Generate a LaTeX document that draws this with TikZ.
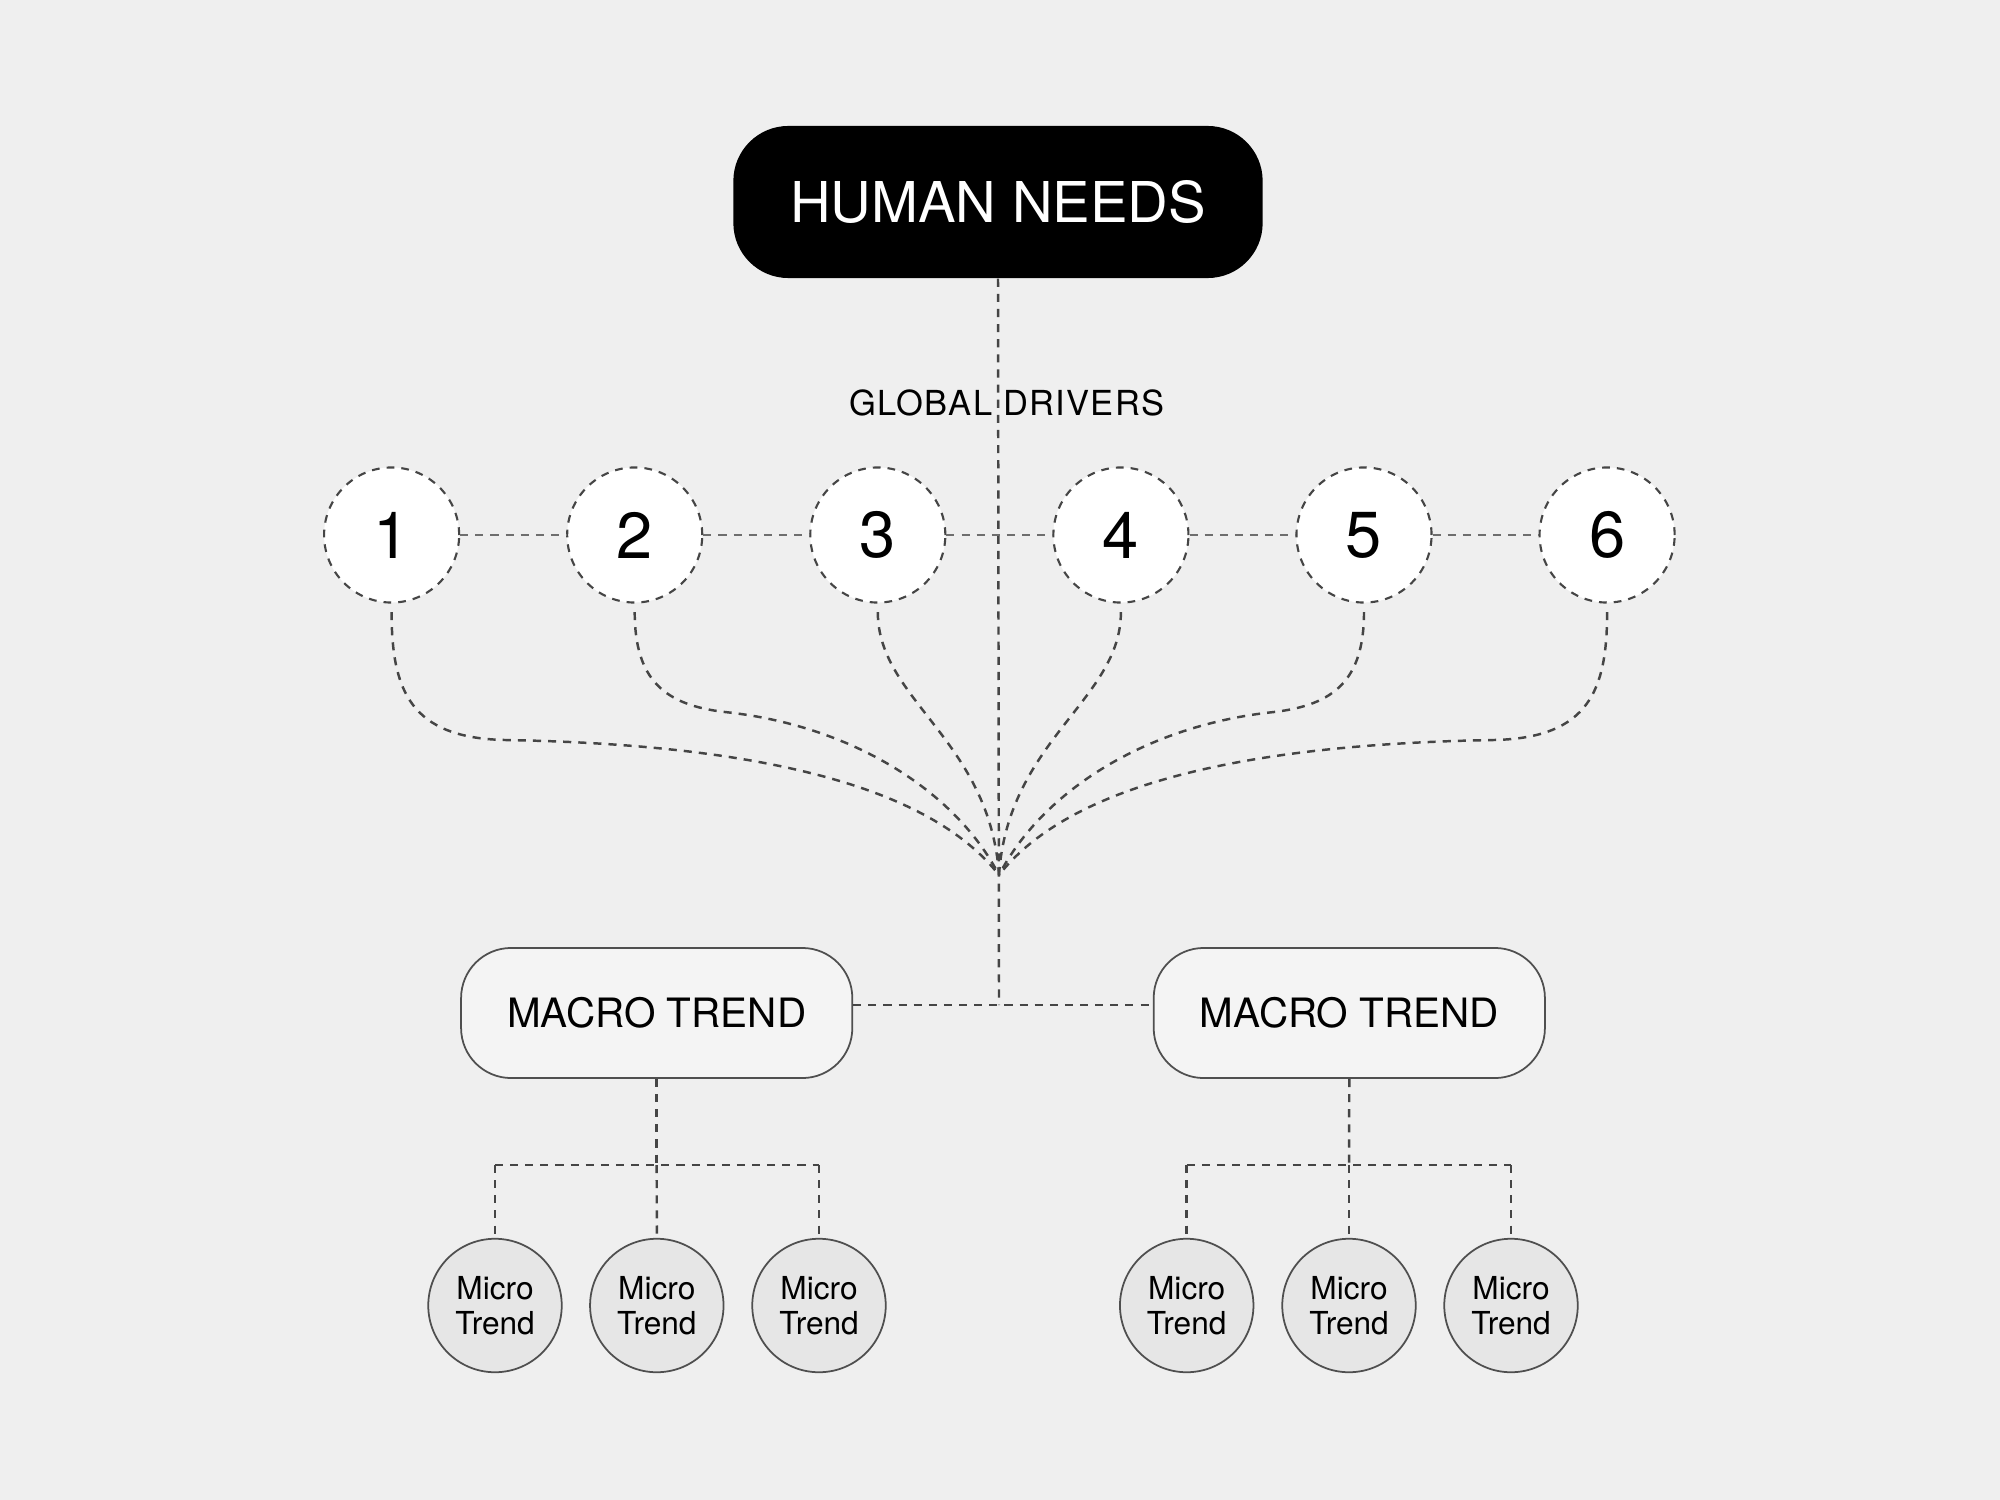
\documentclass[tikz,border=0pt]{standalone}
\usepackage{fontspec}
\setmainfont{TeX Gyre Heros}
\newfontfamily\gdfont[LetterSpace=4]{TeX Gyre Heros}
\usetikzlibrary{calc}
\definecolor{bg}{HTML}{EFEFEF}
\definecolor{linec}{HTML}{454545}
\definecolor{hlinec}{HTML}{6E6E6E}
\definecolor{macrofill}{HTML}{F4F4F4}
\definecolor{microfill}{HTML}{E6E6E6}
\definecolor{bordc}{HTML}{4F4F4F}
\begin{document}
\begin{tikzpicture}[x=0.01cm,y=-0.01cm,
  dline/.style={draw=linec, line width=0.7pt, dash pattern=on 2.3pt off 2pt},
  hline/.style={draw=hlinec, line width=0.8pt, dash pattern=on 2.3pt off 2pt},
  hnbox/.style={fill=black, text=white, rounded corners=0.55cm, minimum width=5.29cm,
    minimum height=1.52cm, inner sep=0pt, font=\fontsize{16}{19}\selectfont},
  driver/.style={circle, draw=linec, line width=0.6pt, dash pattern=on 2.2pt off 2pt,
    fill=white, minimum size=1.35cm, inner sep=0pt, font=\fontsize{18.5}{22}\selectfont},
  macro/.style={draw=bordc, line width=0.5pt, fill=macrofill, rounded corners=0.5cm,
    minimum width=3.91cm, minimum height=1.3cm, inner sep=0pt, font=\fontsize{11.5}{13}\selectfont},
  micro/.style={circle, draw=bordc, line width=0.5pt, fill=microfill, minimum size=1.334cm,
    inner sep=0pt, align=center, font=\fontsize{9}{10}\selectfont},
  gdlabel/.style={inner sep=0pt, font=\gdfont\fontsize{9.8}{11}\selectfont}
]
\fill[bg] (0,0) rectangle (2000,1500);
\useasboundingbox (0,0) rectangle (2000,1500);

% nodes
\node[hnbox] (hn) at (998,202) {HUMAN NEEDS};
\node[gdlabel] (gd) at (1007,403) {GLOBAL DRIVERS};

\node[driver] (d1) at (391.6,535) {1};
\node[driver] (d2) at (634.7,535) {2};
\node[driver] (d3) at (877.8,535) {3};
\node[driver] (d4) at (1120.9,535) {4};
\node[driver] (d5) at (1364.0,535) {5};
\node[driver] (d6) at (1607.1,535) {6};

\coordinate (C) at (999,875);
\coordinate (J) at (999,1005);

\node[macro] (m1) at (656.7,1013) {MACRO TREND};
\node[macro] (m2) at (1349.3,1013) {MACRO TREND};

\coordinate (B1) at (656.7,1165);
\coordinate (B2) at (1349,1165);

\node[micro] (u1) at (495,1305.5) {Micro\\Trend};
\node[micro] (u2) at (656.8,1305.5) {Micro\\Trend};
\node[micro] (u3) at (819,1305.5) {Micro\\Trend};
\node[micro] (v1) at (1186.7,1305.5) {Micro\\Trend};
\node[micro] (v2) at (1349,1305.5) {Micro\\Trend};
\node[micro] (v3) at (1511,1305.5) {Micro\\Trend};

% connectors
\draw[dline] (hn.south) -- (J);
\draw[dline] (J -| m1.east) -- (J -| m2.west);

\draw[hline] (d1.east) -- (d2.west);
\draw[hline] (d2.east) -- (d3.west);
\draw[hline] (d3.east) -- (d4.west);
\draw[hline] (d4.east) -- (d5.west);
\draw[hline] (d5.east) -- (d6.west);

% curves to the convergence point
\draw[dline] ($(d1.south)+(0,8.5)$) .. controls (391.6,690) and (410,738) .. (505,740)
  .. controls (800,745) and (940,800) .. (C);
\draw[dline] ($(d2.south)+(0,8.5)$) .. controls (634.7,680) and (664.7,705) .. (724.7,712)
  .. controls (850,725) and (955,790) .. (C);
\draw[dline] ($(d3.south)+(0,8.5)$) .. controls (877.8,700) and (990,740) .. (C);
\draw[dline] ($(d4.south)+(0,8.5)$) .. controls (1120.9,700) and (1008,740) .. (C);
\draw[dline] ($(d5.south)+(0,8.5)$) .. controls (1364,680) and (1334,705) .. (1274,712)
  .. controls (1148,725) and (1043,790) .. (C);
\draw[dline] ($(d6.south)+(0,8.5)$) .. controls (1607.1,690) and (1589,738) .. (1494,740)
  .. controls (1198,745) and (1058,800) .. (C);

% macro to micro brackets
\draw[dline] (m1.south) -- (B1);
\draw[dline] (B1 -| u1.north) -- (B1 -| u3.north);
\draw[dline] (B1 -| u1.north) -- (u1.north);
\draw[dline] (B1) -- (u2.north);
\draw[dline] (B1 -| u3.north) -- (u3.north);

\draw[dline] (m2.south) -- (B2);
\draw[dline] (B2 -| v1.north) -- (B2 -| v3.north);
\draw[dline] (B2 -| v1.north) -- (v1.north);
\draw[dline] (B2) -- (v2.north);
\draw[dline] (B2 -| v3.north) -- (v3.north);
\end{tikzpicture}
\end{document}
